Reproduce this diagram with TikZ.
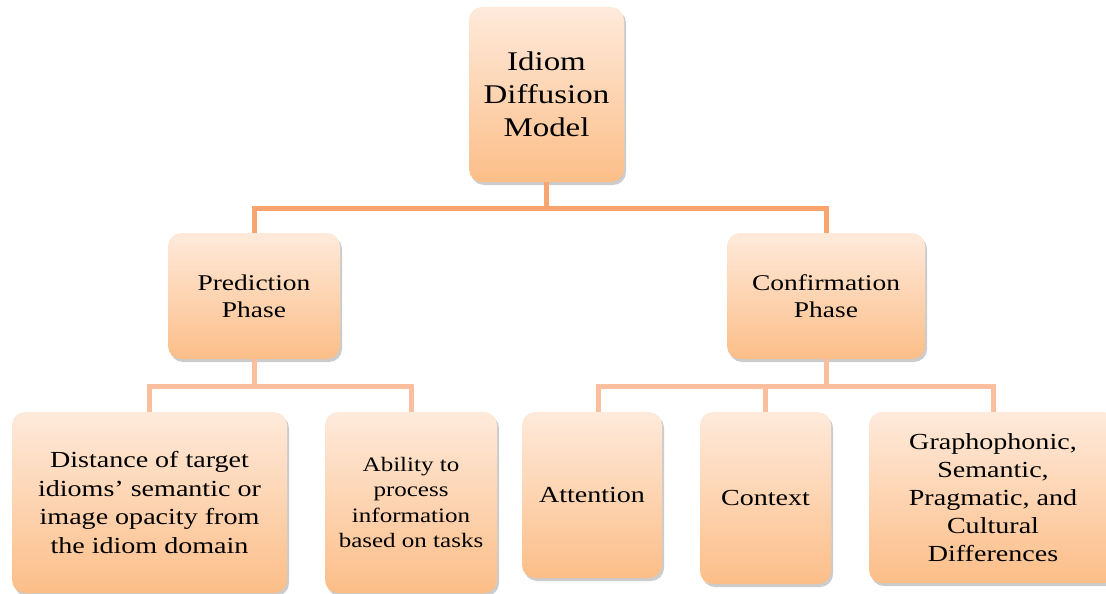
\documentclass[tikz,border=0pt]{standalone}
\usepackage{fontspec}
\setmainfont{Liberation Serif}[FakeStretch=1.22]
\usetikzlibrary{shadows}
\definecolor{boxtop}{HTML}{FEEADB}
\definecolor{boxbot}{HTML}{FCBE88}
\definecolor{lineA}{HTML}{F8A46E}
\definecolor{lineB}{HTML}{FBBE9E}
\tikzset{
  pbox/.style={rectangle, rounded corners=13pt, top color=boxtop, bottom color=boxbot,
    draw=none, align=center, inner sep=2pt, text=black,
    drop shadow={shadow xshift=2pt, shadow yshift=-3pt, opacity=0.2, fill=black}},
  linkA/.style={draw=lineA, line width=5pt},
  linkB/.style={draw=lineB, line width=5pt},
}
\begin{document}
\begin{tikzpicture}[x=1pt,y=-1pt]
\useasboundingbox (0,0) rectangle (1106,594);
% boxes
\node[pbox, minimum width=155pt, minimum height=175pt, font=\fontsize{27}{33}\selectfont] (top) at (546.5,94.5) {Idiom\\Diffusion\\Model};
\node[pbox, minimum width=172pt, minimum height=126pt, font=\fontsize{22.5}{27}\selectfont] (pred) at (254,296) {Prediction\\Phase};
\node[pbox, minimum width=198pt, minimum height=126pt, font=\fontsize{22.5}{27}\selectfont] (conf) at (826,296) {Confirmation\\Phase};
\node[pbox, minimum width=275pt, minimum height=181pt, font=\fontsize{23}{28.5}\selectfont] (dist) at (149.5,502.5) {Distance of target\\idioms’ semantic or\\image opacity from\\the idiom domain};
\node[pbox, minimum width=172pt, minimum height=181pt, font=\fontsize{20.5}{25.3}\selectfont] (abil) at (411,502.5) {Ability to\\process\\information\\based on tasks};
\node[pbox, minimum width=140pt, minimum height=166pt, font=\fontsize{23}{28}\selectfont] (att) at (592,495) {Attention};
\node[pbox, minimum width=131pt, minimum height=172pt, font=\fontsize{23}{28}\selectfont] (ctx) at (765.5,498) {Context};
\node[pbox, minimum width=248pt, minimum height=171pt, font=\fontsize{23}{28}\selectfont] (gra) at (993,497.5) {Graphophonic,\\Semantic,\\Pragmatic, and\\Cultural\\Differences};
% connectors level 1
\coordinate (j1) at (546.5,208);
\draw[linkA] (top.south) -- (j1);
\draw[linkA] (pred.north) |- (j1) -| (conf.north);
% connectors level 2
\coordinate (j2) at (254,386);
\coordinate (j3) at (826,386);
\coordinate (attin) at (598,412);
\draw[linkB] (pred.south) -- (j2);
\draw[linkB] (dist.north) |- (j2) -| (abil.north);
\draw[linkB] (conf.south) -- (j3);
\draw[linkB] (attin) |- (j3) -| (gra.north);
\draw[linkB] (ctx.north) -- (ctx.north |- j3);
\end{tikzpicture}
\end{document}
